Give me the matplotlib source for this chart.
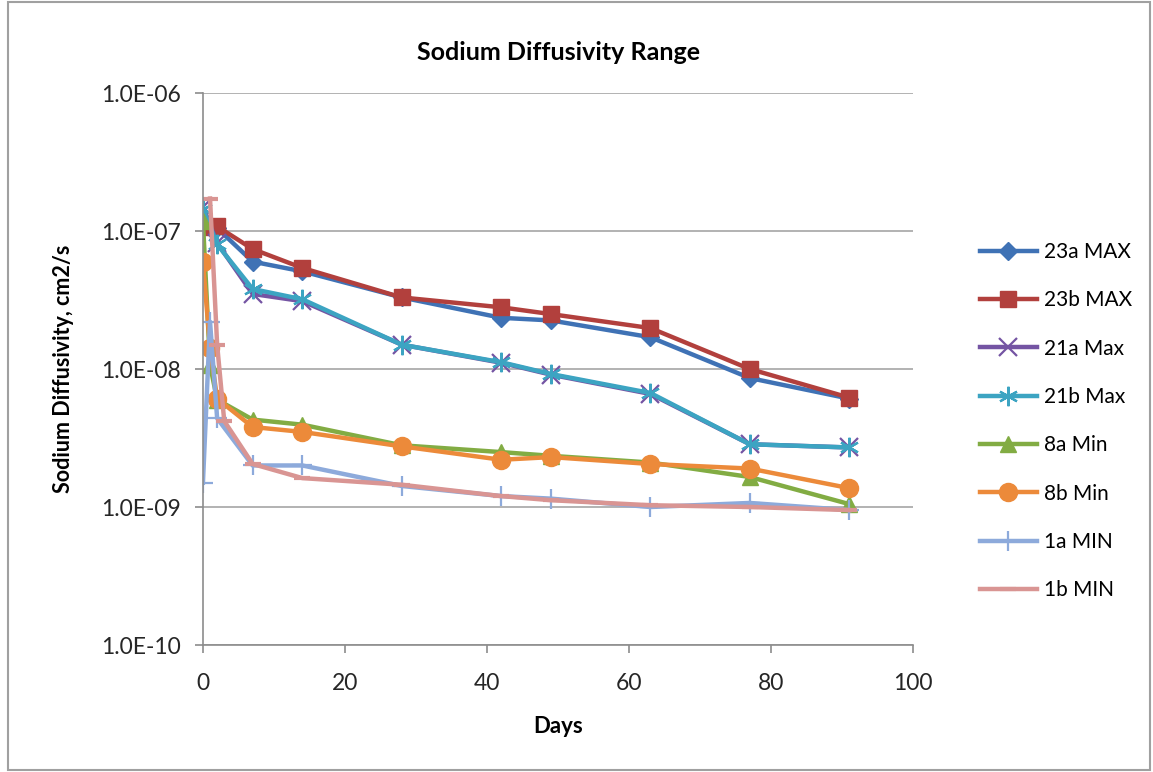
"""Sodium diffusivity range over time, log-scale comparison of max/min samples."""
import matplotlib
matplotlib.use("Agg")
import matplotlib.pyplot as plt
from matplotlib.patches import Rectangle
from matplotlib.ticker import FixedLocator, NullLocator

plt.rcParams["font.family"] = ["Lato", "DejaVu Sans"]

days = [0, 2, 7, 14, 28, 42, 49, 63, 77, 91]
days_early = [0, 1, 2, 7, 14, 28, 42, 49, 63, 77, 91]
days_1b = [1, 2, 3, 7, 14, 28, 42, 49, 63, 77, 91]

d23a = [1.2e-7, 1.05e-7, 6.0e-8, 5.1e-8, 3.3e-8, 2.35e-8, 2.25e-8, 1.7e-8, 8.6e-9, 6.1e-9]
d23b = [1.07e-7, 1.08e-7, 7.4e-8, 5.4e-8, 3.3e-8, 2.8e-8, 2.5e-8, 1.98e-8, 1.0e-8, 6.2e-9]
d21a = [1.5e-7, 8.2e-8, 3.5e-8, 3.1e-8, 1.5e-8, 1.11e-8, 9.1e-9, 6.6e-9, 2.85e-9, 2.7e-9]
d21b = [1.45e-7, 8.0e-8, 3.8e-8, 3.2e-8, 1.5e-8, 1.12e-8, 9.2e-9, 6.7e-9, 2.85e-9, 2.7e-9]
d8a = [1.18e-7, 1.07e-8, 6.0e-9, 4.3e-9, 3.95e-9, 2.8e-9, 2.5e-9, 2.35e-9, 2.1e-9, 1.65e-9, 1.05e-9]
d8b = [6.0e-8, 1.43e-8, 6.1e-9, 3.8e-9, 3.5e-9, 2.75e-9, 2.2e-9, 2.3e-9, 2.05e-9, 1.9e-9, 1.37e-9]
d1a = [1.5e-9, 2.2e-8, 4.4e-9, 2.0e-9, 2.0e-9, 1.42e-9, 1.2e-9, 1.15e-9, 1.0e-9, 1.07e-9, 9.5e-10]
d1b = [1.72e-7, 1.5e-8, 4.2e-9, 2.05e-9, 1.62e-9, 1.45e-9, 1.2e-9, 1.12e-9, 1.03e-9, 1.0e-9, 9.5e-10]

yticks = [1e-10, 1e-9, 1e-8, 1e-7, 1e-6]
ytick_labels = ["1.0E-10", "1.0E-09", "1.0E-08", "1.0E-07", "1.0E-06"]
xticks = [0, 20, 40, 60, 80, 100]

series = [
    ("23a MAX", days, d23a, "#3F72B5", dict(marker="D", ms=9)),
    ("23b MAX", days, d23b, "#B2403D", dict(marker="s", ms=12)),
    ("21a Max", days, d21a, "#7454A3", dict(marker="x", ms=13, mew=1.6)),
    ("21b Max", days, d21b, "#3CA4C2", dict(marker=(6, 2, 0), ms=14, mew=1.6)),
    ("8a Min", days_early, d8a, "#82AC43", dict(marker="^", ms=11)),
    ("8b Min", days_early, d8b, "#EC8A3A", dict(marker="o", ms=13)),
    ("1a MIN", days_early, d1a, "#8DAADB", dict(marker="+", ms=14, mew=1.6)),
    ("1b MIN", days_1b, d1b, "#D99593", dict(marker="_", ms=12, mew=3)),
]

fig = plt.figure(figsize=(11.53, 7.72), dpi=100)
ax = fig.add_axes([0.176, 0.1645, 0.616, 0.715])

for name, x, y, color, mk in series:
    ax.plot(x, y, color=color, lw=3.2, label=name, **mk)

ax.set_yscale("log")
ax.set_ylim(1e-10, 1e-6)
ax.set_xlim(0, 100)
ax.yaxis.set_major_locator(FixedLocator(yticks))
ax.yaxis.set_minor_locator(NullLocator())
ax.set_yticklabels(ytick_labels)
ax.set_xticks(xticks)
ax.tick_params(axis="both", labelsize=16.5, colors="#8C8C8C", length=6,
               width=1.2, direction="out", labelcolor="#262626")
ax.tick_params(axis="y", pad=10)
ax.tick_params(axis="x", pad=14)
ax.grid(axis="y", color="#A6A6A6", lw=1.2)
ax.set_axisbelow(True)
for side in ("top", "right"):
    ax.spines[side].set_visible(False)
for side in ("left", "bottom"):
    ax.spines[side].set_color("#8C8C8C")
    ax.spines[side].set_linewidth(1.2)

ax.set_title("Sodium Diffusivity Range", fontsize=18, fontweight="bold", pad=24)
ax.set_xlabel("Days", fontsize=16, fontweight="bold", labelpad=16)
ax.set_ylabel("Sodium Diffusivity, cm2/s", fontsize=15.5, fontweight="bold", labelpad=19)

fig.legend(loc="upper left", bbox_to_anchor=(0.834, 0.711), frameon=False,
           fontsize=15, handlelength=2.7, labelspacing=1.36, handletextpad=0.35)

fig.patches.append(Rectangle((0.007, 0.003), 0.99, 0.994, transform=fig.transFigure,
                             fill=False, edgecolor="#A0A0A0", lw=1.5))

fig.savefig("out.png", dpi=100)
